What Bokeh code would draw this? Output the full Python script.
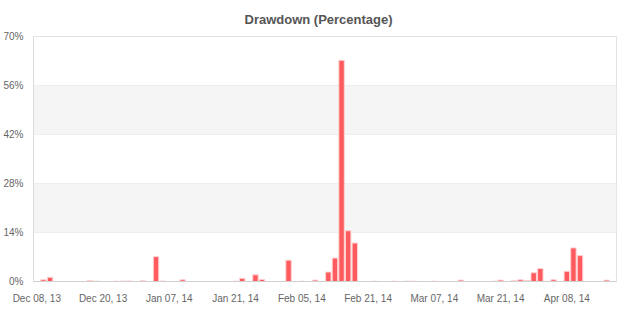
from bokeh.plotting import figure
from bokeh.models import ColumnDataSource, Range1d, FixedTicker, PrintfTickFormatter, BoxAnnotation
from bokeh.embed import file_html
from bokeh.resources import INLINE

# ---- data ----
tick_labels = ["Dec 08, 13", "Dec 20, 13", "Jan 07, 14", "Jan 21, 14", "Feb 05, 14",
               "Feb 21, 14", "Mar 07, 14", "Mar 21, 14", "Apr 08, 14"]
tick_every = 10
n_periods = 88
drawdown_pct = [0.0] * n_periods
drawdown_points = {
    1: 0.5, 2: 1.2, 8: 0.3, 9: 0.1, 12: 0.1, 13: 0.15, 14: 0.15, 16: 0.2, 18: 7.1,
    19: 0.15, 22: 0.5, 30: 0.1, 31: 0.9, 33: 1.9, 34: 0.6, 38: 6.1, 40: 0.1, 42: 0.4,
    44: 2.7, 45: 6.7, 46: 63.2, 47: 14.5, 48: 11.0, 51: 0.1, 54: 0.1, 56: 0.1, 57: 0.1,
    60: 0.1, 64: 0.4, 69: 0.1, 70: 0.4, 72: 0.2, 73: 0.5, 74: 0.3, 75: 2.5, 76: 3.7,
    77: 0.05, 78: 0.5, 80: 2.9, 81: 9.6, 82: 7.4, 86: 0.4,
}
for k, v in drawdown_points.items():
    drawdown_pct[k] = v
y_ticks = [0, 14, 28, 42, 56, 70]

idx = [i for i, v in enumerate(drawdown_pct) if v > 0]
src = ColumnDataSource(dict(x=idx, top=[drawdown_pct[i] for i in idx]))

p = figure(width=634, height=310, output_backend="svg", toolbar_location=None,
           x_range=Range1d(-0.5, n_periods - 0.5), y_range=Range1d(0, 70),
           min_border_left=32, min_border_right=18, min_border_top=36, min_border_bottom=29)

p.title.text = "Drawdown (Percentage)"
p.title.align = "left"
p.title.text_font = "Liberation Sans"
p.title.text_font_size = "13px"
p.title.text_font_style = "bold"
p.title.text_color = "#555555"
p.title.standoff = 19
p.title.offset = 211

# alternating bands
for lo in (14, 42):
    p.add_layout(BoxAnnotation(bottom=lo, top=lo + 14, fill_color="#f5f5f5", fill_alpha=1.0,
                               line_alpha=0, level="underlay"))

p.vbar(x="x", top="top", bottom=0, width=0.82, source=src,
       fill_color="#ff5a5e", line_color="#ffd2d2", line_width=1)

p.outline_line_color = "#e2e2e2"
p.background_fill_color = "white"
p.border_fill_color = "white"

p.xgrid.visible = False
p.ygrid.ticker = FixedTicker(ticks=y_ticks)
p.ygrid.grid_line_color = "#e6e6e6"

p.yaxis.ticker = FixedTicker(ticks=y_ticks)
p.yaxis.formatter = PrintfTickFormatter(format="%d%%")
p.yaxis.axis_line_color = "#dcdcdc"
p.yaxis.major_tick_line_color = None
p.yaxis.minor_tick_line_color = None
p.yaxis.major_label_standoff = 4
p.yaxis.major_label_text_font = "Liberation Sans"
p.yaxis.major_label_text_font_size = "10px"
p.yaxis.major_label_text_color = "#666666"

xt = [i * tick_every for i in range(len(tick_labels))]
p.xaxis.ticker = FixedTicker(ticks=xt)
p.xaxis.major_label_overrides = {t: lab for t, lab in zip(xt, tick_labels)}
p.xaxis.axis_line_color = "#d0d0d0"
p.xaxis.major_tick_line_color = None
p.xaxis.minor_tick_line_color = None
p.xaxis.major_label_standoff = 5
p.xaxis.major_label_text_font = "Liberation Sans"
p.xaxis.major_label_text_font_size = "10px"
p.xaxis.major_label_text_color = "#666666"

open("out.html", "w").write(file_html(p, INLINE))
